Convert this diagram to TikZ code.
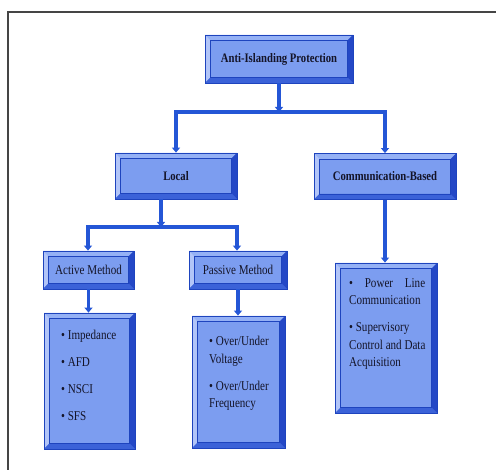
\documentclass[tikz,border=0pt]{standalone}
\usepackage{fontspec}
\setmainfont{Liberation Serif}[FakeStretch=0.82]
\usetikzlibrary{arrows.meta}
\definecolor{face}{HTML}{7C9DF0}
\definecolor{bevtop}{HTML}{95B1F5}
\definecolor{bevleft}{HTML}{B2C5F8}
\definecolor{bevbot}{HTML}{3B62D8}
\definecolor{bevright}{HTML}{2448C6}
\definecolor{bevline}{HTML}{1E44BE}
\definecolor{connc}{HTML}{2456D6}
\definecolor{framec}{HTML}{454545}
\definecolor{txt}{HTML}{141428}
\tikzset{
  bev/.style={draw=bevline, line width=0.8pt, fill=face, inner sep=0pt, text=txt,
    font=\fontsize{13.5pt}{17.5pt}\selectfont,
    path picture={
      \fill[bevtop] (path picture bounding box.north west) -- (path picture bounding box.north east)
        -- ([shift={(-5.5pt,-5.5pt)}]path picture bounding box.north east)
        -- ([shift={(5.5pt,-5.5pt)}]path picture bounding box.north west) -- cycle;
      \fill[bevleft] (path picture bounding box.north west)
        -- ([shift={(5.5pt,-5.5pt)}]path picture bounding box.north west)
        -- ([shift={(5.5pt,5.5pt)}]path picture bounding box.south west)
        -- (path picture bounding box.south west) -- cycle;
      \fill[bevbot] (path picture bounding box.south west) -- (path picture bounding box.south east)
        -- ([shift={(-5.5pt,5.5pt)}]path picture bounding box.south east)
        -- ([shift={(5.5pt,5.5pt)}]path picture bounding box.south west) -- cycle;
      \fill[bevright] (path picture bounding box.south east)
        -- (path picture bounding box.north east)
        -- ([shift={(-5.5pt,-5.5pt)}]path picture bounding box.north east)
        -- ([shift={(-5.5pt,5.5pt)}]path picture bounding box.south east) -- cycle;
      \draw[bevline, line width=0.4pt] ([shift={(5.5pt,-5.5pt)}]path picture bounding box.north west)
        rectangle ([shift={(-5.5pt,5.5pt)}]path picture bounding box.south east);
    }},
  listtext/.style={anchor=north west, align=left, inner sep=0pt, text=txt,
    font=\fontsize{13.5pt}{17.5pt}\selectfont},
  bar/.style={draw=connc, line width=3.5pt, line cap=rect},
  arr/.style={draw=connc, line width=3.2pt, -{Triangle[width=8pt,length=5pt]}},
}
\begin{document}
\begin{tikzpicture}[x=1pt,y=-1pt]
\useasboundingbox (0,0) rectangle (496,470);
\draw[framec, line width=1.5pt] (8,472) -- (8,12) -- (498,12);

% boxes
\node[bev, minimum width=148pt, minimum height=48pt, font=\fontsize{13pt}{17pt}\selectfont] (top) at (279,59) {\textbf{Anti-Islanding Protection}};
\node[bev, minimum width=122pt, minimum height=46pt, font=\fontsize{13pt}{17pt}\selectfont] (local) at (176,176) {\textbf{Local}};
\node[bev, minimum width=142pt, minimum height=46pt, font=\fontsize{13pt}{17pt}\selectfont] (comm) at (385,176.5) {\textbf{Communication-Based}};
\node[bev, minimum width=91pt, minimum height=38pt] (active) at (88.5,270) {Active Method};
\node[bev, minimum width=98pt, minimum height=38pt] (passive) at (238,270) {Passive Method};
\node[bev, minimum width=91pt, minimum height=136pt] (actlist) at (89.5,381) {};
\node[bev, minimum width=93pt, minimum height=132pt] (paslist) at (238.5,382) {};
\node[bev, minimum width=102pt, minimum height=150pt] (commlist) at (386,338) {};

% list texts
\node[listtext] (actt) at (61,330) {• Impedance\\[9.5pt] • AFD\\[9.5pt] • NSCI\\[9.5pt] • SFS};
\node[listtext] (past) at (209,336) {• Over/Under\\ Voltage\\[9.5pt] • Over/Under\\ Frequency};
\node[listtext] (commt) at (349,278) {\hbox to 76pt{•\hfill Power\hfill Line}\\ Communication\\[9.5pt] • Supervisory\\ Control and Data\\ Acquisition};

% connectors
\coordinate (b1l) at (176,112);
\coordinate (b1r) at (385,112);
\coordinate (b2l) at (88,227);
\coordinate (b2r) at (237,227);
\coordinate (b2m) at (161,227);
\draw[bar] (b1l) -- (b1r);
\draw[bar] (b2l) -- (b2r);
\draw[arr] (top.south) -- (top.south |- b1l);
\draw[arr] (b1l) -- (local.north);
\draw[arr] (b1r) -- (comm.north);
\draw[arr] (local.south -| b2m) -- (b2m);
\draw[arr] (b2l) -- (b2l |- active.north);
\draw[arr] (b2r) -- (b2r |- passive.north);
\draw[arr] (active.south) -- (active.south |- actlist.north);
\draw[arr] (passive.south) -- (passive.south |- paslist.north);
\draw[arr] (comm.south) -- (comm.south |- commlist.north);
\end{tikzpicture}
\end{document}
